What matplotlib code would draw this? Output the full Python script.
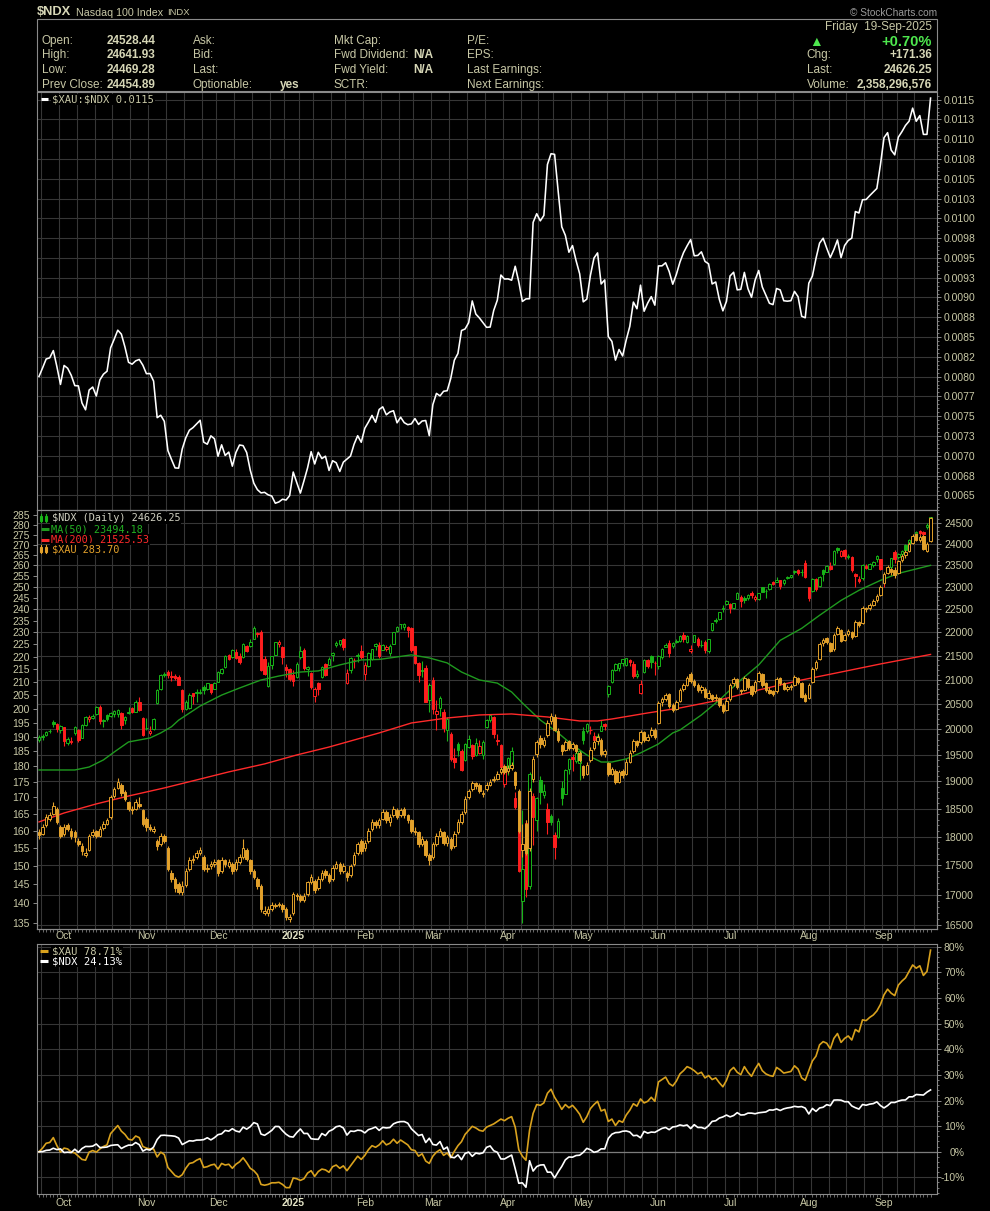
import numpy as np
import matplotlib
matplotlib.use('Agg')
import matplotlib.pyplot as plt
from matplotlib.ticker import FixedLocator, NullFormatter
from matplotlib.patches import Rectangle
from matplotlib.lines import Line2D

plt.rcParams['font.family'] = ['Liberation Sans', 'DejaVu Sans']

# ---- daily data, 20-Sep-2024 .. 19-Sep-2025 (250 sessions) ----
ndx_open = [
    19800, 19850, 19890, 19960, 20150, 20110, 19980, 20040, 19740, 19760,
    19930, 19990, 19830, 20090, 20200, 20230, 20300, 20440, 20170, 20290,
    20270, 20300, 20310, 20330, 20180, 20320, 20430, 20350, 20550, 20230,
    20020, 19920, 20000, 20520, 20800, 21100, 21160, 21060, 21080, 21060,
    20790, 20400, 20420, 20720, 20730, 20730, 20840, 20800, 20900, 20800,
    20960, 21140, 21260, 21510, 21470, 21580, 21500, 21470, 21700, 21700,
    21860, 21960, 22000, 21420, 20870, 21300, 21520, 21740, 21690, 21270,
    21220, 21090, 21060, 21470, 21620, 21220, 21140, 20660, 20930, 21050,
    21330, 21310, 21510, 21720, 21740, 21850, 20920, 21200, 21400, 21500,
    21590, 21110, 21280, 21430, 21700, 21730, 21630, 21640, 21560, 21750,
    22030, 22180, 22120, 22110, 22090, 21700, 21340, 21200, 21250, 20580,
    20990, 20300, 20420, 20350, 19980, 19900, 19450, 19710, 19580, 19400,
    19650, 19690, 19510, 19540, 19500, 20050, 20180, 20250, 19770, 19700,
    18950, 19230, 19250, 18700, 18160, 16900, 18240, 17150, 18740, 18300,
    19030, 18750, 18490, 18360, 18030, 18000, 18880, 18770, 19230, 19460,
    19380, 19350, 19960, 19960, 19980, 19860, 19830, 19970, 20100, 20700,
    20950, 21200, 21250, 21340, 21300, 21400, 21320, 21070, 20730, 21150,
    21400, 21500, 21350, 21290, 21480, 21690, 21760, 21700, 21800, 21820,
    21930, 21800, 21600, 21800, 21860, 21730, 21800, 21600, 22040, 22260,
    22280, 22500, 22630, 22620, 22530, 22730, 22780, 22750, 22760, 22870,
    22730, 22740, 22990, 22900, 22950, 23110, 23110, 23150, 23100, 23200,
    23230, 23330, 23390, 23330, 23560, 22990, 22900, 23180, 23030, 23380,
    23350, 23490, 23530, 23900, 23720, 23850, 23680, 23690, 23300, 23180,
    23210, 23480, 23420, 23500, 23650, 23640, 23150, 23420, 23450, 23800,
    23690, 23760, 23970, 23880, 24080, 24180, 24300, 24270, 24400, 24528.44]
ndx_high = [
    19880, 19900, 19975, 20010, 20180, 20130, 20075, 20050, 19850, 19850,
    20060, 20000, 20100, 20260, 20290, 20300, 20470, 20480, 20210, 20310,
    20350, 20390, 20410, 20340, 20270, 20440, 20450, 20580, 20640, 20240,
    20220, 20060, 20220, 20800, 21110, 21150, 21190, 21170, 21120, 21090,
    20800, 20580, 20720, 20730, 20800, 20800, 20890, 20940, 20910, 20950,
    21180, 21240, 21510, 21540, 21640, 21640, 21560, 21760, 21720, 21850,
    22130, 22000, 22050, 21490, 21370, 21500, 21800, 21830, 21700, 21320,
    21250, 21190, 21360, 21710, 21660, 21280, 21150, 20840, 20960, 21290,
    21340, 21470, 21580, 21820, 21840, 21870, 21230, 21470, 21460, 21560,
    21720, 21360, 21580, 21650, 21770, 21800, 21750, 21720, 21740, 22010,
    22130, 22180, 22200, 22130, 22110, 21710, 21360, 21380, 21300, 20920,
    21050, 20590, 20660, 20410, 20240, 19950, 19640, 19760, 19620, 19730,
    19880, 19720, 19830, 19790, 19790, 20200, 20300, 20260, 19900, 19710,
    19330, 19460, 19660, 18800, 18260, 18470, 18300, 19180, 18780, 18720,
    19100, 18950, 18600, 18400, 18080, 18330, 19000, 19230, 19450, 19520,
    19560, 19580, 20040, 20130, 20060, 19950, 19930, 20180, 20130, 20880,
    21220, 21350, 21350, 21430, 21460, 21430, 21390, 21200, 21000, 21420,
    21420, 21510, 21380, 21510, 21670, 21760, 21830, 21790, 21850, 21930,
    22010, 21930, 21730, 21950, 21900, 21840, 21830, 21860, 22210, 22300,
    22450, 22590, 22700, 22650, 22650, 22890, 22810, 22790, 22850, 22900,
    22810, 22860, 23000, 22950, 23080, 23140, 23220, 23160, 23170, 23260,
    23280, 23380, 23420, 23410, 23620, 23010, 23200, 23210, 23250, 23400,
    23500, 23580, 23850, 23930, 23860, 23870, 23760, 23700, 23310, 23240,
    23530, 23520, 23550, 23600, 23730, 23650, 23260, 23460, 23670, 23850,
    23790, 23860, 24000, 24100, 24130, 24290, 24320, 24310, 24500, 24641.93]
ndx_low = [
    19760, 19790, 19860, 19920, 20040, 19950, 19920, 19680, 19700, 19720,
    19880, 19760, 19820, 20070, 20150, 20200, 20280, 20110, 20050, 20170,
    20240, 20250, 20250, 20000, 20110, 20300, 20330, 20340, 20370, 19870,
    19980, 19890, 19990, 20500, 20790, 21050, 21030, 20980, 20990, 20880,
    20340, 20380, 20400, 20500, 20550, 20700, 20700, 20790, 20700, 20800,
    20950, 21110, 21250, 21410, 21460, 21430, 21330, 21460, 21580, 21690,
    21850, 21890, 21180, 21100, 20850, 21220, 21510, 21680, 21330, 21060,
    20980, 20870, 21040, 21430, 21190, 21070, 20800, 20540, 20680, 21030,
    21080, 21300, 21380, 21680, 21700, 21620, 20900, 21130, 21250, 21360,
    21430, 21000, 21260, 21400, 21620, 21460, 21620, 21590, 21500, 21740,
    22010, 22060, 22050, 21900, 21580, 21320, 20950, 21050, 20540, 20350,
    20300, 19980, 20270, 19950, 19770, 19380, 19250, 19490, 19200, 19390,
    19640, 19420, 19490, 19520, 19420, 20020, 20150, 19820, 19700, 19260,
    18900, 19120, 19240, 18500, 17390, 16542, 16970, 17100, 17850, 18100,
    18580, 18700, 18050, 18200, 17600, 17980, 18570, 18760, 19140, 19200,
    19340, 19030, 19720, 19930, 19900, 19750, 19700, 19960, 19980, 20650,
    20930, 21180, 21180, 21280, 21280, 21290, 21040, 21030, 20700, 21130,
    21250, 21240, 21100, 21220, 21430, 21680, 21480, 21660, 21760, 21780,
    21800, 21760, 21550, 21790, 21690, 21680, 21560, 21560, 22030, 22190,
    22270, 22450, 22590, 22420, 22500, 22720, 22550, 22650, 22700, 22760,
    22680, 22700, 22880, 22750, 22940, 23040, 23110, 22950, 23040, 23170,
    23200, 23300, 23280, 23250, 23200, 22690, 22880, 22920, 22990, 23140,
    23340, 23380, 23500, 23790, 23680, 23650, 23640, 23350, 22990, 23080,
    23160, 23420, 23400, 23450, 23580, 23380, 23000, 23320, 23420, 23560,
    23640, 23730, 23790, 23850, 24030, 24170, 24200, 24010, 24340, 24469.28]
ndx_close = [
    19839, 19852, 19945, 19970, 20111, 20001, 20061, 19776, 19801, 19772,
    20035, 19790, 20087, 20250, 20243, 20272, 20439, 20167, 20173, 20204,
    20325, 20360, 20380, 20090, 20240, 20352, 20351, 20551, 20385, 19890,
    20033, 19965, 20205, 20786, 21101, 21118, 21090, 21071, 21035, 20897,
    20394, 20548, 20690, 20667, 20740, 20744, 20777, 20922, 20755, 20930,
    21164, 21225, 21490, 21430, 21622, 21445, 21372, 21747, 21590, 21780,
    22096, 21991, 21209, 21110, 21290, 21491, 21798, 21790, 21472, 21196,
    21012, 20975, 21326, 21600, 21248, 21256, 20847, 20810, 20800, 21252,
    21090, 21427, 21552, 21776, 21836, 21680, 21127, 21440, 21412, 21508,
    21478, 21300, 21550, 21640, 21756, 21491, 21725, 21683, 21713, 22000,
    22115, 22172, 22176, 22050, 21614, 21353, 21094, 21174, 20550, 20885,
    20402, 20353, 20629, 20026, 20201, 19430, 19373, 19597, 19225, 19705,
    19812, 19483, 19737, 19677, 19753, 20180, 20287, 19917, 19798, 19281,
    19278, 19436, 19581, 18521, 17397, 17430, 17090, 19145, 18343, 18690,
    18810, 18830, 18257, 18258, 17809, 18277, 18700, 19212, 19432, 19418,
    19546, 19571, 19789, 20102, 19992, 19792, 19867, 20064, 20061, 20869,
    21197, 21320, 21336, 21427, 21447, 21367, 21080, 21112, 20916, 21414,
    21279, 21363, 21341, 21492, 21649, 21719, 21547, 21761, 21797, 21914,
    21849, 21913, 21631, 21937, 21718, 21719, 21626, 21856, 22190, 22238,
    22447, 22534, 22679, 22541, 22642, 22867, 22685, 22700, 22830, 22829,
    22780, 22856, 22884, 22920, 23077, 23065, 23152, 23033, 23162, 23232,
    23272, 23356, 23308, 23337, 23218, 22763, 23192, 22964, 23228, 23285,
    23486, 23409, 23839, 23850, 23833, 23713, 23713, 23385, 23250, 23143,
    23498, 23441, 23525, 23566, 23704, 23415, 23232, 23414, 23658, 23652,
    23762, 23839, 23849, 24092, 24093, 24272, 24250, 24229, 24454.89, 24626.25]

xau_open = [
    159.5, 159.0, 161.5, 163.5, 165.0, 166.5, 161.0, 159.0, 161.5, 160.0,
    159.5, 157.0, 155.5, 153.0, 154.5, 158.8, 159.8, 158.5, 160.8, 162.0,
    164.0, 170.5, 173.0, 174.0, 171.8, 168.5, 166.5, 166.5, 168.0, 166.0,
    163.5, 161.0, 160.0, 157.0, 156.0, 158.5, 155.0, 148.0, 146.5, 145.0,
    143.0, 144.8, 149.0, 151.5, 152.5, 153.5, 152.5, 149.0, 150.0, 150.5,
    151.5, 148.5, 151.5, 150.0, 150.5, 149.0, 151.0, 152.5, 154.5, 151.5,
    148.5, 146.5, 144.5, 137.5, 137.5, 138.5, 139.3, 139.5, 139.5, 138.5,
    136.0, 137.5, 142.0, 142.0, 141.0, 142.5, 145.5, 146.0, 144.0, 146.5,
    148.5, 147.5, 146.5, 149.5, 150.5, 148.5, 148.0, 147.5, 150.5, 153.5,
    157.0, 155.0, 157.0, 160.5, 162.5, 161.5, 163.5, 165.5, 162.5, 164.5,
    166.0, 164.5, 166.5, 164.5, 163.0, 160.0, 159.5, 156.0, 157.0, 153.0,
    152.5, 156.0, 158.5, 159.5, 156.5, 157.5, 155.5, 159.5, 162.5, 165.5,
    170.0, 172.5, 174.5, 174.0, 171.0, 172.5, 174.0, 175.5, 176.0, 178.0,
    180.0, 178.5, 179.5, 178.0, 172.0, 154.5, 162.0, 155.0, 176.0, 184.0,
    189.5, 187.0, 190.5, 195.5, 197.0, 192.0, 187.0, 185.5, 188.5, 186.0,
    187.0, 184.5, 180.0, 177.5, 182.0, 186.0, 188.5, 189.0, 184.0, 181.0,
    177.5, 178.5, 175.0, 178.5, 177.5, 181.5, 185.0, 188.5, 188.0, 191.5,
    189.0, 190.5, 192.5, 195.0, 202.5, 203.5, 205.5, 201.5, 200.0, 203.0,
    207.5, 209.0, 213.0, 210.5, 209.0, 207.0, 207.5, 204.0, 205.0, 204.0,
    204.0, 201.5, 199.5, 203.5, 209.5, 211.0, 207.0, 207.0, 211.0, 208.5,
    206.5, 210.5, 213.0, 209.5, 207.0, 206.5, 206.5, 211.5, 209.5, 207.5,
    208.0, 209.0, 211.5, 209.5, 205.0, 204.0, 210.0, 215.5, 219.0, 225.5,
    227.5, 225.5, 223.0, 229.5, 231.0, 227.0, 229.5, 230.0, 228.5, 234.5,
    234.0, 240.5, 240.5, 242.0, 244.0, 246.5, 252.0, 256.5, 258.5, 258.0,
    256.5, 262.5, 265.0, 267.0, 271.0, 275.5, 272.5, 274.5, 267.0, 272.0]
xau_high = [
    160.5, 161.8, 164.8, 165.5, 168.5, 167.0, 161.5, 161.8, 162.3, 160.8,
    160.3, 157.8, 156.5, 155.0, 159.0, 160.5, 160.2, 161.2, 162.8, 163.8,
    170.8, 173.3, 176.2, 174.5, 172.3, 169.0, 167.3, 169.5, 170.0, 166.5,
    164.0, 162.0, 161.3, 157.5, 159.3, 159.0, 155.5, 148.8, 147.0, 145.5,
    145.8, 149.3, 152.3, 153.0, 154.3, 155.3, 153.0, 150.5, 151.3, 151.8,
    152.0, 152.3, 152.0, 151.8, 151.0, 151.8, 153.3, 157.5, 155.0, 152.0,
    149.0, 147.0, 145.0, 139.3, 139.3, 140.3, 140.0, 140.3, 140.0, 139.0,
    137.3, 143.0, 142.8, 142.5, 142.8, 146.0, 147.8, 146.5, 147.3, 148.8,
    149.0, 148.0, 150.3, 151.3, 151.0, 150.8, 148.5, 150.5, 153.8, 156.8,
    157.5, 157.3, 160.8, 163.3, 163.0, 163.8, 166.3, 166.0, 164.8, 167.3,
    166.8, 166.8, 167.0, 165.0, 163.5, 161.0, 160.0, 158.3, 157.5, 153.5,
    156.8, 159.3, 160.8, 160.0, 158.8, 158.0, 159.8, 163.3, 165.8, 170.3,
    172.8, 175.3, 175.0, 174.5, 172.3, 174.8, 175.8, 176.8, 178.3, 179.8,
    180.5, 180.3, 181.3, 178.5, 172.5, 162.0, 163.0, 173.0, 183.3, 188.8,
    190.5, 189.8, 195.8, 198.5, 198.0, 193.0, 187.5, 188.8, 189.0, 188.3,
    187.5, 185.0, 180.5, 181.3, 186.3, 188.8, 190.8, 189.5, 185.8, 181.5,
    179.8, 179.0, 178.8, 179.0, 182.3, 185.3, 189.3, 189.0, 192.3, 192.0,
    190.8, 193.3, 193.0, 202.8, 204.3, 205.8, 206.0, 202.0, 203.3, 207.8,
    209.8, 212.3, 214.0, 211.0, 209.5, 208.8, 208.0, 206.8, 205.5, 205.3,
    204.5, 202.0, 203.8, 209.8, 211.8, 211.5, 207.5, 212.3, 211.5, 209.0,
    210.8, 214.3, 213.5, 210.0, 208.0, 207.0, 211.8, 212.0, 210.0, 208.8,
    209.3, 212.8, 212.0, 210.0, 206.0, 209.8, 215.8, 218.8, 225.8, 227.8,
    228.0, 226.0, 229.8, 232.8, 231.5, 229.8, 231.3, 230.5, 235.3, 235.0,
    241.3, 241.0, 242.8, 244.3, 246.8, 250.8, 256.8, 260.3, 259.0, 259.5,
    262.8, 265.3, 267.3, 271.3, 275.3, 276.0, 274.8, 275.0, 271.3, 284.3]
xau_low = [
    157.5, 158.6, 161.0, 162.8, 164.5, 161.8, 157.8, 158.5, 159.8, 157.6,
    156.6, 155.5, 153.0, 152.3, 154.0, 158.0, 157.8, 158.0, 160.3, 161.5,
    163.5, 169.8, 172.5, 170.3, 168.8, 165.8, 164.8, 166.0, 166.8, 161.3,
    160.0, 159.8, 159.3, 154.5, 155.5, 156.3, 148.5, 145.5, 143.0, 142.5,
    142.3, 144.3, 148.5, 150.8, 151.8, 153.0, 148.5, 148.3, 149.0, 149.8,
    147.3, 148.0, 149.8, 149.3, 147.8, 148.5, 150.5, 152.0, 151.3, 147.8,
    146.3, 143.8, 137.8, 137.0, 136.8, 138.0, 138.8, 139.0, 137.8, 135.8,
    135.3, 137.0, 140.8, 140.3, 140.5, 142.0, 145.0, 142.8, 143.5, 146.0,
    146.8, 145.3, 146.0, 149.0, 147.8, 148.0, 145.8, 147.0, 150.0, 153.0,
    153.3, 154.0, 156.5, 160.0, 160.8, 160.8, 163.0, 162.3, 161.3, 164.0,
    163.3, 164.0, 163.8, 162.3, 159.3, 158.8, 155.3, 155.5, 152.3, 150.3,
    152.0, 155.5, 158.0, 155.8, 155.5, 154.3, 155.0, 159.0, 162.0, 165.0,
    169.5, 172.0, 172.8, 171.3, 170.0, 172.0, 173.5, 174.8, 175.5, 177.5,
    177.3, 177.8, 178.8, 172.8, 159.3, 152.5, 153.0, 154.0, 175.0, 183.0,
    186.0, 186.3, 190.0, 194.5, 192.0, 188.3, 183.8, 185.0, 185.3, 185.3,
    184.3, 181.3, 176.3, 177.0, 181.5, 185.5, 187.5, 183.3, 183.0, 176.8,
    177.0, 174.3, 174.5, 176.3, 177.0, 181.0, 184.5, 186.3, 187.5, 188.3,
    188.5, 190.0, 189.3, 194.5, 201.0, 203.0, 200.3, 198.8, 199.5, 202.5,
    206.5, 208.5, 209.8, 208.3, 206.3, 206.0, 203.8, 203.5, 202.8, 203.0,
    200.8, 198.3, 199.0, 203.0, 208.5, 207.3, 205.3, 206.5, 207.3, 204.8,
    206.0, 210.0, 208.3, 206.3, 205.3, 204.8, 206.0, 208.8, 206.8, 206.5,
    207.0, 208.5, 209.3, 203.8, 202.3, 203.5, 209.5, 214.5, 218.5, 224.5,
    225.3, 221.8, 222.5, 229.0, 225.8, 226.5, 228.5, 227.3, 228.0, 232.3,
    233.5, 238.8, 239.8, 241.3, 243.3, 246.0, 251.5, 255.8, 255.3, 254.0,
    256.0, 261.5, 263.8, 266.3, 270.3, 271.8, 271.3, 267.3, 266.3, 271.5]
xau_close = [
    158.75, 161.0, 164.0, 164.5, 167.5, 162.5, 158.5, 161.0, 160.5, 158.5,
    158.0, 156.0, 154.0, 153.5, 158.5, 159.5, 158.5, 160.5, 162.0, 163.0,
    170.0, 172.5, 175.0, 171.5, 169.5, 166.5, 166.0, 168.5, 167.5, 162.0,
    161.0, 160.5, 160.5, 155.5, 158.5, 157.0, 149.0, 146.5, 144.0, 143.0,
    144.5, 148.5, 151.5, 152.0, 153.5, 154.5, 149.0, 149.5, 150.5, 151.0,
    148.0, 151.5, 150.5, 151.0, 148.5, 151.0, 152.5, 155.0, 152.0, 148.5,
    147.0, 144.5, 138.5, 138.0, 138.5, 139.5, 139.5, 139.8, 138.5, 136.5,
    136.5, 142.5, 142.0, 141.0, 142.0, 145.5, 147.0, 143.5, 146.5, 148.0,
    147.5, 146.0, 149.5, 150.5, 148.5, 150.0, 147.0, 150.0, 153.0, 156.0,
    154.0, 156.5, 160.0, 162.5, 161.5, 163.0, 165.5, 163.0, 164.0, 166.5,
    164.0, 166.0, 164.5, 163.0, 160.0, 159.5, 156.0, 157.5, 153.0, 151.5,
    156.0, 158.5, 160.0, 156.5, 158.0, 155.0, 159.0, 162.5, 165.0, 169.5,
    172.0, 174.5, 173.5, 172.0, 171.5, 174.0, 175.0, 176.0, 177.5, 179.0,
    178.0, 179.5, 180.5, 174.0, 160.0, 156.0, 153.5, 172.0, 182.5, 188.0,
    187.5, 189.0, 195.0, 197.5, 192.5, 189.0, 185.0, 188.0, 186.0, 187.5,
    185.0, 182.0, 177.0, 180.5, 185.5, 188.0, 190.0, 184.0, 185.0, 177.5,
    179.0, 175.0, 178.0, 177.0, 181.5, 184.5, 188.5, 187.0, 191.5, 189.0,
    190.0, 192.5, 190.0, 202.0, 203.5, 205.0, 201.0, 199.5, 202.5, 207.0,
    209.0, 211.5, 210.5, 209.0, 207.0, 208.0, 204.5, 206.0, 203.5, 204.5,
    201.5, 199.0, 203.0, 209.0, 211.0, 208.0, 206.5, 211.5, 208.0, 205.5,
    210.0, 213.5, 209.0, 207.0, 206.0, 205.5, 211.0, 209.5, 207.5, 208.0,
    208.5, 212.0, 210.0, 204.5, 203.0, 209.0, 215.0, 218.0, 225.0, 227.0,
    226.0, 222.5, 229.0, 232.0, 226.5, 229.0, 230.5, 228.0, 234.5, 233.0,
    240.5, 240.0, 242.0, 243.5, 246.0, 250.0, 256.0, 259.5, 257.0, 255.5,
    262.0, 264.5, 266.5, 270.5, 274.5, 272.5, 274.0, 268.0, 270.5, 283.70]

# moving averages (session index, value)
ma50_idx = [0, 10, 14, 18, 21, 25, 31, 34, 37, 39, 45, 51, 56, 62, 67, 73, 78, 84,
            90, 95, 104, 109, 114, 118, 123, 128, 132, 135, 140, 145, 149, 153, 157,
            160, 164, 168, 173, 177, 179, 185, 190, 196, 201, 207, 213, 218, 224,
            229, 235, 240, 249]
ma50_val = [19216, 19216, 19272, 19407, 19558, 19752, 19830, 19928, 20050, 20180,
            20462, 20683, 20827, 20992, 21074, 21157, 21180, 21305, 21410, 21420,
            21516, 21452, 21347, 21157, 20992, 20928, 20746, 20524, 20183, 19928,
            19693, 19502, 19367, 19367, 19426, 19541, 19713, 19928, 19985, 20283,
            20582, 20992, 21305, 21825, 22084, 22369, 22699, 22925, 23150, 23309,
            23494.18]
ma200_idx = [0, 7, 16, 25, 35, 44, 53, 63, 72, 81, 95, 104, 114, 123, 132, 142, 151,
             156, 160, 170, 179, 190, 201, 213, 224, 235, 249]
ma200_val = [18260, 18421, 18586, 18731, 18880, 19029, 19180, 19331, 19502, 19654,
             19928, 20124, 20223, 20283, 20303, 20243, 20164, 20164, 20203, 20323,
             20423, 20582, 20787, 20992, 21157, 21325, 21525.53]

# calendar: first session of each month / week
month_idx = [7, 30, 50, 71, 91, 110, 131, 152, 173, 193, 215, 236]
month_lbl = ['Oct', 'Nov', 'Dec', '2025', 'Feb', 'Mar', 'Apr', 'May', 'Jun', 'Jul', 'Aug', 'Sep']
week_idx = [1, 6, 11, 16, 21, 26, 31, 36, 41, 46, 50, 55, 60, 65, 69, 73, 77, 82, 86,
            91, 96, 101, 105, 110, 115, 120, 125, 130, 135, 140, 144, 149, 154, 159,
            164, 169, 173, 178, 183, 187, 192, 196, 201, 206, 211, 216, 221, 226,
            231, 236, 240, 245]

ratio_ticks = [0.0065, 0.00675, 0.0070, 0.00725, 0.0075, 0.00775, 0.0080, 0.00825,
               0.0085, 0.00875, 0.0090, 0.00925, 0.0095, 0.00975, 0.0100, 0.01025,
               0.0105, 0.01075, 0.0110, 0.01125, 0.0115]
ratio_lbls = ['0.0065', '0.0068', '0.0070', '0.0073', '0.0075', '0.0077', '0.0080',
              '0.0082', '0.0085', '0.0088', '0.0090', '0.0093', '0.0095', '0.0098',
              '0.0100', '0.0103', '0.0105', '0.0108', '0.0110', '0.0113', '0.0115']

W, H = 990, 1211
BG = 'black'
TXT = '#c8c8a6'
VAL = '#d6d6b6'
GRID = '#363636'
FRAME = '#8a8a8a'
UP = '#18b418'
DOWN = '#ff1e1e'
GOLD = '#e3a12b'
MA50C = '#1f9a1f'
MA200C = '#ff2a2a'


def fx(x):
    return x / W


def fy(y):
    return 1 - y / H


fig = plt.figure(figsize=(9.9, 12.11), dpi=100, facecolor=BG)


def panel(top, bottom):
    return fig.add_axes([fx(37), fy(bottom), fx(937) - fx(37), (bottom - top) / H])


ax_r = panel(92, 510)
ax_n = panel(510, 929)
ax_p = panel(944, 1194)
ax_x = ax_n.twinx()
ax_n.yaxis.tick_right()
ax_x.yaxis.tick_left()

for ax in (ax_r, ax_n, ax_p):
    ax.set_facecolor(BG)
    ax.set_xlim(-0.56, 250.8)
    ax.vlines(np.array(week_idx) - 0.5, 0, 1, transform=ax.get_xaxis_transform(),
              colors=GRID, lw=0.8, zorder=0)
    ax.yaxis.grid(True, color=GRID, lw=0.8)
    ax.set_axisbelow(True)
for ax in (ax_r, ax_n, ax_x, ax_p):
    for s in ax.spines.values():
        s.set_color(FRAME)
        s.set_linewidth(0.8)
    ax.tick_params(axis='y', which='major', colors=FRAME, labelcolor=TXT, labelsize=7.5,
                   length=3, width=0.7, pad=2)
    ax.tick_params(axis='y', which='minor', colors=FRAME, length=1.5, width=0.6)


def candles(ax, o, h, l, c, cols, width=0.7):
    o, h, l, c = (np.asarray(a, dtype=float) for a in (o, h, l, c))
    x = np.arange(len(c))
    bottom = np.minimum(o, c)
    height = np.maximum(np.abs(c - o), c * 0.0006)
    face = ['black' if c[i] > o[i] else cols[i] for i in range(len(c))]
    ax.vlines(x, l, h, colors=cols, lw=0.8, zorder=2)
    ax.bar(x, height, width, bottom, color=face, edgecolor=cols, linewidth=0.7, zorder=3)


nc = np.array(ndx_close)
xc = np.array(xau_close)

# ---- top: ratio ----
ratio = xc / nc
ax_r.plot(np.arange(len(ratio)), ratio, color='white', lw=1.15, zorder=3)
ax_r.set_ylim(0.006314, 0.011597)
ax_r.yaxis.tick_right()
ax_r.set_yticks(ratio_ticks, labels=ratio_lbls)
ax_r.yaxis.set_minor_locator(FixedLocator(np.arange(0.00630, 0.01160, 0.00005)))
ax_r.yaxis.set_minor_formatter(NullFormatter())
ax_r.tick_params(axis='x', length=0, labelbottom=False)

# ---- middle: NDX (right, log) and XAU (left, log) ----
prev = np.r_[ndx_open[0], nc[:-1]]
ndx_cols = [UP if nc[i] >= prev[i] else DOWN for i in range(len(nc))]
candles(ax_n, ndx_open, ndx_high, ndx_low, ndx_close, ndx_cols)
ax_n.plot(ma50_idx, ma50_val, color=MA50C, lw=1.0, zorder=4)
ax_n.plot(ma200_idx, ma200_val, color=MA200C, lw=1.0, zorder=4)
ax_n.set_yscale('log')
ax_n.set_ylim(16437, 24807)
ndx_ticks = list(range(16500, 25000, 500))
ax_n.set_yticks(ndx_ticks, labels=[str(v) for v in ndx_ticks])
ax_n.yaxis.set_minor_locator(FixedLocator(range(16500, 24801, 100)))
ax_n.yaxis.set_minor_formatter(NullFormatter())

candles(ax_x, xau_open, xau_high, xau_low, xau_close, [GOLD] * len(xc))
ax_x.set_yscale('log')
ax_x.set_ylim(133.6, 287.8)
xau_ticks = list(range(135, 290, 5))
ax_x.set_yticks(xau_ticks, labels=[str(v) for v in xau_ticks])
ax_x.yaxis.set_minor_locator(FixedLocator([]))
ax_x.yaxis.set_minor_formatter(NullFormatter())

# ---- bottom: performance ----
pct_x = (xc / xc[0] - 1) * 100
pct_n = (nc / nc[0] - 1) * 100
ax_p.axhline(0, color='#7c7c7c', lw=0.9, zorder=1)
ax_p.plot(np.arange(len(pct_x)), pct_x, color='#d9a21e', lw=1.2, zorder=3)
ax_p.plot(np.arange(len(pct_n)), pct_n, color='white', lw=1.2, zorder=3)
ax_p.set_ylim(-16.5, 81.1)
ax_p.yaxis.tick_right()
pticks = list(range(-10, 90, 10))
ax_p.set_yticks(pticks, labels=['%d%%' % v for v in pticks])
ax_p.yaxis.set_minor_locator(FixedLocator(range(-16, 82, 2)))
ax_p.yaxis.set_minor_formatter(NullFormatter())
ax_p.tick_params(axis='y', which='major', pad=17)
for lab in ax_p.get_yticklabels():
    lab.set_horizontalalignment('right')

for ax, pad in ((ax_n, 1.5), (ax_p, 3)):
    ax.set_xticks(month_idx, labels=month_lbl)
    ax.xaxis.set_minor_locator(FixedLocator(range(len(nc))))
    ax.tick_params(axis='x', which='major', length=0, pad=pad, labelsize=7.5, labelcolor=TXT)
    ax.tick_params(axis='x', which='minor', length=2, width=0.6, colors='#7a7a7a')
    for lab in ax.get_xticklabels():
        if lab.get_text() == '2025':
            lab.set_fontweight('bold')
            lab.set_color('#e2e2c4')


# ---- legends ----
def t(x, y, s, size=8.5, color=TXT, weight='normal', ha='left', family=None, box=False):
    kw = {}
    if family:
        kw['family'] = family
    if box:
        kw['bbox'] = dict(facecolor='black', edgecolor='none', pad=0.6)
    fig.text(fx(x), fy(y), s, fontsize=size, color=color, fontweight=weight,
             ha=ha, va='center', **kw)


def dash(x0, x1, y, color):
    fig.add_artist(Line2D([fx(x0), fx(x1)], [fy(y), fy(y)], color=color, lw=2.2,
                          transform=fig.transFigure, solid_capstyle='butt'))


def icon(x, y, color):
    for dx, filled in ((0, True), (4.5, False)):
        fig.add_artist(Line2D([fx(x + dx + 1.2), fx(x + dx + 1.2)], [fy(y + 4), fy(y - 4)],
                              color=color, lw=0.8, transform=fig.transFigure))
        fig.add_artist(Rectangle((fx(x + dx), fy(y + 2.5)), 2.4 / W, 5 / H,
                                 transform=fig.transFigure, lw=0.8, edgecolor=color,
                                 facecolor=color if filled else 'black'))


mono = ['DejaVu Sans Mono']
dash(41, 48, 99, 'white')
t(52, 99.5, '\\$XAU:\\$NDX %.4f' % ratio[-1], 7.6, TXT, family=mono, box=True)

icon(40, 518, UP)
t(52, 518, '\\$NDX (Daily) %.2f' % nc[-1], 7.4, '#cfcfc0', family=mono, box=True)
dash(41, 49, 529, MA50C)
t(51, 529, 'MA(50) %.2f' % ma50_val[-1], 7.4, '#22b022', family=mono, box=True)
dash(41, 49, 539.5, MA200C)
t(51, 539.5, 'MA(200) %.2f' % ma200_val[-1], 7.4, MA200C, family=mono, box=True)
icon(40, 549, GOLD)
t(52, 549, '\\$XAU %.2f' % xc[-1], 7.4, GOLD, family=mono, box=True)

dash(40, 48, 951, '#d9a21e')
t(52, 951, '\\$XAU %.2f%%' % pct_x[-1], 7.6, TXT, family=mono, box=True)
dash(40, 48, 961, 'white')
t(52, 961, '\\$NDX %.2f%%' % pct_n[-1], 7.6, 'white', family=mono, box=True)

# ---- header ----
fig.add_artist(Rectangle((fx(37), fy(91)), fx(937) - fx(37), (91 - 19) / H,
                         transform=fig.transFigure, fill=False, edgecolor=FRAME, lw=0.8))
t(37, 12, '\\$NDX', 9.3, '#d8d8b8', 'bold')
t(75.5, 12.5, 'Nasdaq 100 Index', 7.7)
t(167, 12.5, 'INDX', 6.8)
t(937, 12.5, '\u00a9 StockCharts.com', 7.3, '#9a9a9a', ha='right')

rows = [40.7, 55, 70, 84.7]
chg = nc[-1] - nc[-2]
col1 = ['Open:', 'High:', 'Low:', 'Prev Close:']
val1 = ['%.2f' % ndx_open[-1], '%.2f' % ndx_high[-1], '%.2f' % ndx_low[-1], '%.2f' % nc[-2]]
col2 = ['Ask:', 'Bid:', 'Last:', 'Optionable:']
col3 = ['Mkt Cap:', 'Fwd Dividend:', 'Fwd Yield:', 'SCTR:']
col4 = ['P/E:', 'EPS:', 'Last Earnings:', 'Next Earnings:']
for i, y in enumerate(rows):
    t(41.7, y, col1[i])
    t(107, y, val1[i], weight='bold', color=VAL)
    t(192.7, y, col2[i])
    t(334, y, col3[i])
    t(466.7, y, col4[i])
t(280, rows[3], 'yes', weight='bold', color=VAL)
t(413, rows[1], 'N/A', weight='bold', color=VAL)
t(413, rows[2], 'N/A', weight='bold', color=VAL)

t(932, 26.7, 'Friday  19-Sep-2025', 8.5, ha='right')
t(809, 41.5, '\u25b2', 10, '#4ee84e')
t(932, 41.5, '%+.2f%%' % (chg / nc[-2] * 100), 10.5, '#4ee84e', 'bold', ha='right')
t(806.7, rows[1], 'Chg:')
t(932, rows[1], '%+.2f' % chg, weight='bold', color=VAL, ha='right')
t(806.7, rows[2], 'Last:')
t(932, rows[2], '%.2f' % nc[-1], weight='bold', color=VAL, ha='right')
t(806.7, rows[3], 'Volume:')
t(932, rows[3], '2,358,296,576', weight='bold', color=VAL, ha='right')

fig.savefig('out.png', dpi=100, facecolor=BG)
